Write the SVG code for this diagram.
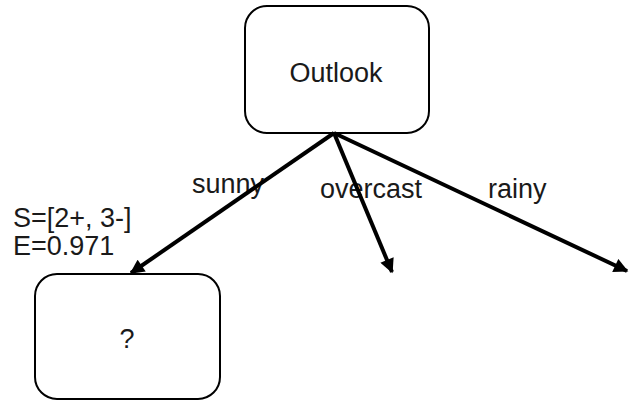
<svg xmlns="http://www.w3.org/2000/svg" width="629" height="401" viewBox="0 0 629 401">
  <style>
    .node rect { fill: #ffffff; stroke: #000000; stroke-width: 2; }
    .lbl { font-family: "Liberation Sans", Arial, sans-serif; font-size: 27px; fill: #1a1a1a; }
    .edge { stroke: #000000; stroke-width: 4; fill: none; marker-end: url(#head); }
  </style>
  <defs>
    <marker id="head" viewBox="0 0 10 10" refX="9" refY="5" markerWidth="4" markerHeight="3.6" orient="auto" markerUnits="strokeWidth">
      <path d="M0,0 L10,5 L0,10 z" fill="#000000"/>
    </marker>
  </defs>
  <rect width="629" height="401" fill="#ffffff"/>

  <g id="outlook" class="node">
    <rect x="245" y="6" width="184" height="127" rx="22"/>
    <text class="lbl" x="336" y="82" text-anchor="middle">Outlook</text>
  </g>

  <g id="unknown" class="node">
    <rect x="35" y="274" width="185" height="125" rx="22"/>
    <text class="lbl" x="127" y="348" text-anchor="middle">?</text>
  </g>

  <!-- branch labels sit underneath the arrows -->
  <g id="labels">
    <text class="lbl" x="192" y="193">sunny</text>
    <text class="lbl" x="320" y="198">overcast</text>
    <text class="lbl" x="488" y="198">rainy</text>
    <text class="lbl" x="13" y="227">S=[2+, 3-]</text>
    <text class="lbl" x="13" y="255">E=0.971</text>
  </g>

  <g id="connectors">
    <line class="edge" x1="334" y1="133" x2="131" y2="273"/>
    <line class="edge" x1="334" y1="133" x2="392" y2="272"/>
    <line class="edge" x1="334" y1="133" x2="627" y2="271"/>
  </g>
</svg>
